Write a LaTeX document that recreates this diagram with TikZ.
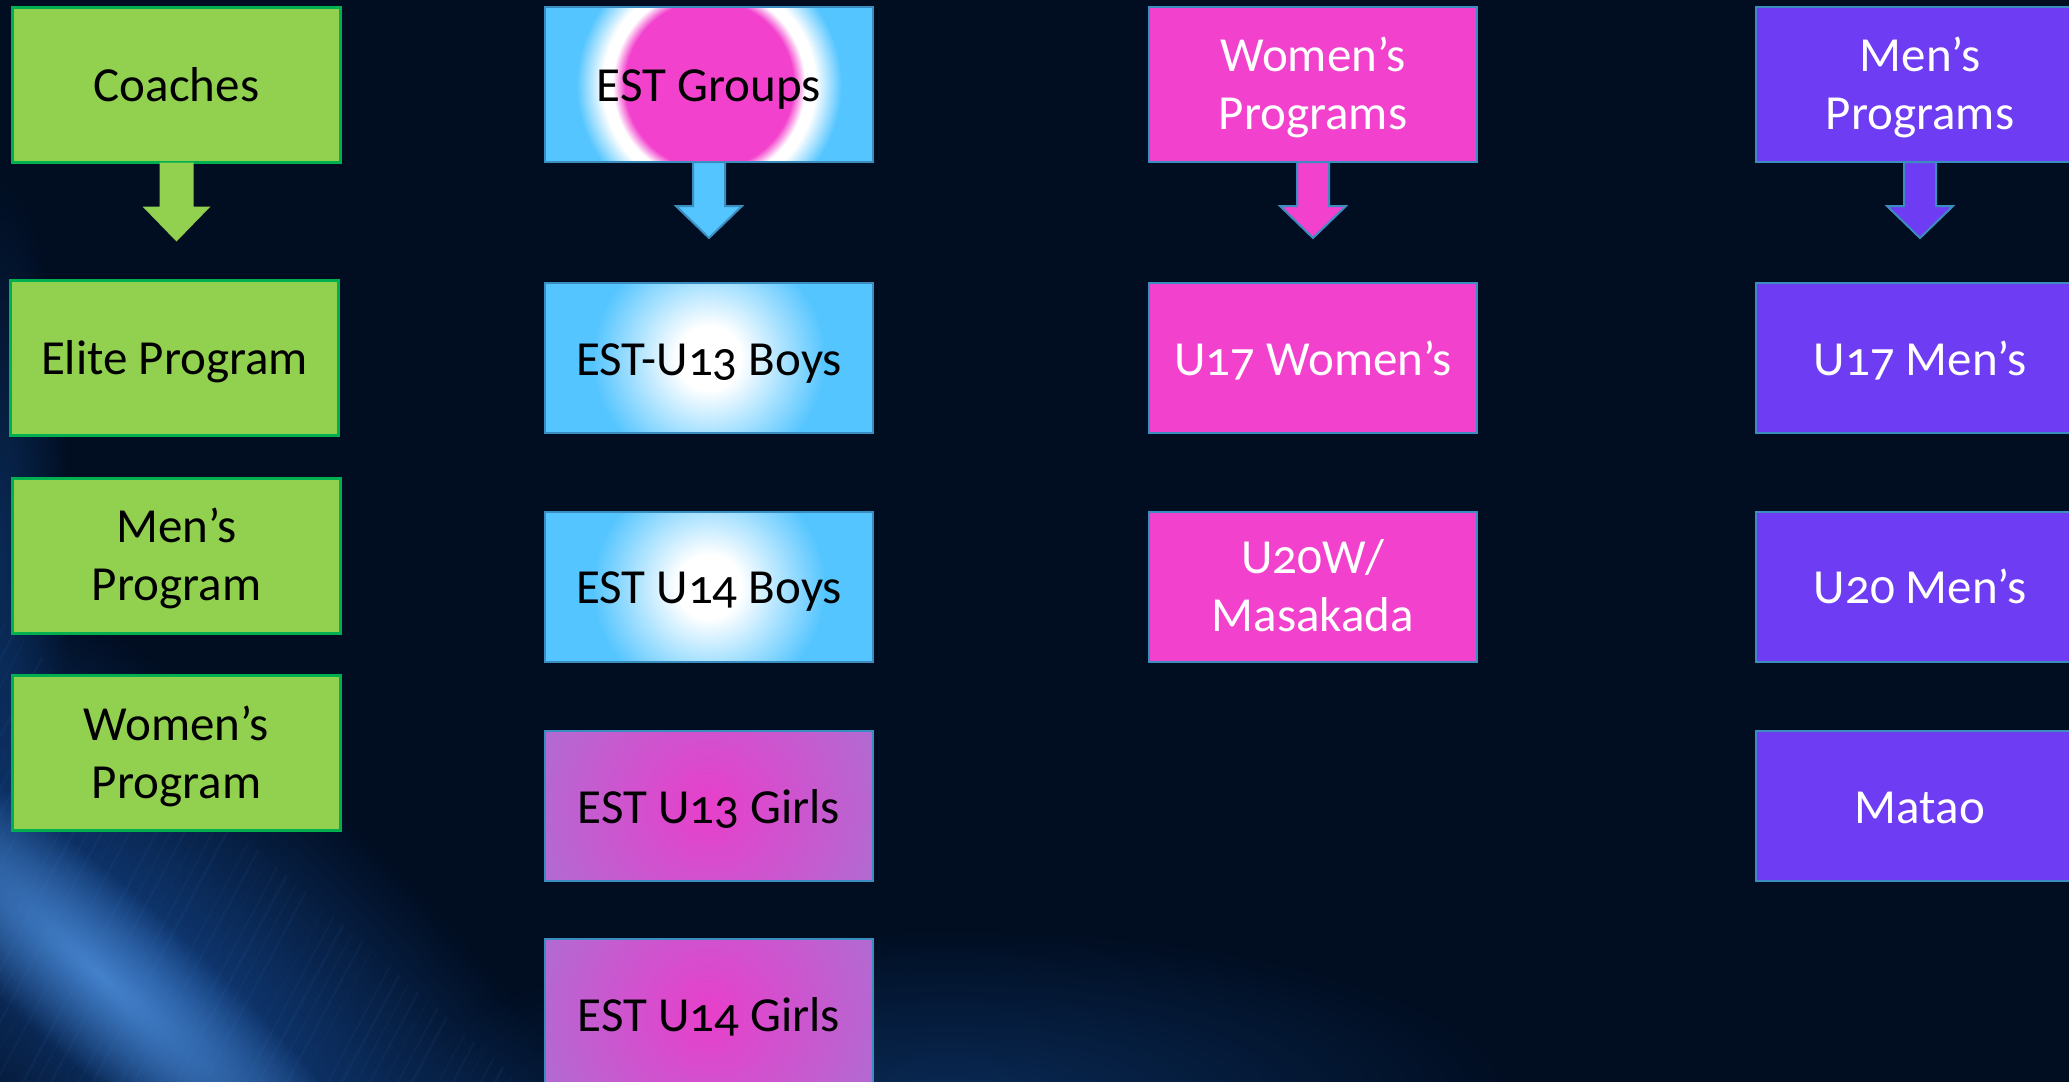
\documentclass[tikz,border=0pt]{standalone}
\usepackage{fontspec}
\setmainfont{Carlito}[Numbers=OldStyle]
\usetikzlibrary{fadings}
\definecolor{bgc}{HTML}{010E22}
\definecolor{gfill}{HTML}{92D050}
\definecolor{gline}{HTML}{00B050}
\definecolor{bfill}{HTML}{55C5FF}
\definecolor{sline}{HTML}{3C8DBF}
\definecolor{pfill}{HTML}{F241CD}
\definecolor{vfill}{HTML}{6E3CF3}
\definecolor{girlc}{HTML}{E83FCB}
\definecolor{girle}{HTML}{B06CD2}
\definecolor{glowa}{HTML}{123F80}
\definecolor{glowb}{HTML}{4A8AD6}
\definecolor{glowc}{HTML}{0A2A55}
\pgfdeclareradialshading{boysglow}{\pgfpointorigin}{color(0bp)=(white); color(16bp)=(white); color(58bp)=(bfill); color(60bp)=(bfill)}
\pgfdeclareradialshading{estglow}{\pgfpointorigin}{color(0bp)=(pfill); color(42bp)=(pfill); color(48bp)=(white); color(53bp)=(white); color(66bp)=(bfill); color(68bp)=(bfill)}
\pgfdeclareradialshading{girlglow}{\pgfpointorigin}{color(0bp)=(girlc); color(92bp)=(girle)}
\tikzfading[name=glowfade, inner color=transparent!0, outer color=transparent!100]
\newcommand\twol[2]{\begin{tabular}{@{}c@{}}#1\\#2\end{tabular}}
\tikzset{
  box/.style={rectangle, minimum width=164pt, minimum height=75pt, inner sep=0pt,
    line width=1pt, draw=sline, font=\fontsize{24.5}{29}\selectfont,
    text height=23pt, text depth=6pt},
  topbox/.style={box, minimum height=77.5pt},
  greenbox/.style={box, minimum height=77.5pt, fill=gfill, draw=gline, line width=1.5pt, text=black},
  bluebox/.style={box, fill=bfill, text=black},
  pinkbox/.style={box, fill=pfill, text=white},
  violetbox/.style={box, fill=vfill, text=white},
  glow/.style={path picture={\node[inner sep=0pt, outer sep=0pt, draw=none, fill=none,
      minimum width=0pt, minimum height=0pt, text height={}, text depth={}]
      at (path picture bounding box.center) {\pgfuseshading{#1}};}},
  arrowfill/.style={line width=1pt, draw=sline, line join=miter},
  streak/.style={draw=glowb, opacity=0.06}
}
\begin{document}
\begin{tikzpicture}[x=0.5pt, y=-0.5pt]
\useasboundingbox (0,0) rectangle (2069,1082);
\fill[bgc] (0,0) rectangle (2069,1082);
\begin{scope}
  \clip (0,0) rectangle (2069,1082);
  \fill[glowc, path fading=glowfade] (950,1100) ellipse (560 and 170);
  \fill[glowc, path fading=glowfade] (0,560) ellipse (70 and 380);
  \begin{scope}[transform canvas={rotate around={-42:(150,980)}}]
    \fill[glowa, path fading=glowfade] (150,980) ellipse (700 and 250);
    \fill[glowb, path fading=glowfade, opacity=.9] (110,1010) ellipse (400 and 85);
  \end{scope}
  \begin{scope}
    \clip (0,620) -- (520,1082) -- (0,1082) -- cycle;
    \foreach \i in {0,...,60} {
      \pgfmathsetmacro\xs{-420+\i*16+mod(\i*37,13)}
      \pgfmathsetmacro\lw{0.4+mod(\i*7,5)*0.25}
      \draw[streak, line width=\lw pt] (\xs,1082) -- ++(300,-560);
    }
  \end{scope}
\end{scope}

% column 1
\node[greenbox] (coach) at (176.5,84.5) {Coaches};
\node[greenbox] (elite) at (174.5,357.5) {Elite Program};
\node[greenbox] (mensp) at (176.5,555.5) {\twol{Men’s}{Program}};
\node[greenbox] (womensp) at (176.5,753) {\twol{Women’s}{Program}};

% column 2
\node[bluebox, topbox, glow=estglow] (est) at (709,84.5) {EST Groups};
\node[bluebox, glow=boysglow] (boys13) at (709,358) {EST-U13 Boys};
\node[bluebox, glow=boysglow] (boys14) at (709,586.5) {EST U14 Boys};
\node[bluebox, fill=girle, glow=girlglow] (girls13) at (709,806) {EST U13 Girls};
\node[bluebox, fill=girle, glow=girlglow] (girls14) at (709,1014) {EST U14 Girls};

% column 3
\node[pinkbox, topbox] (wprog) at (1313,84.5) {\twol{Women’s}{Programs}};
\node[pinkbox] (w17) at (1313,358) {U17 Women’s};
\node[pinkbox] (w20) at (1313,586.5) {\twol{U20W/}{Masakada}};

% column 4
\node[violetbox, topbox] (mprog) at (1920,84.5) {\twol{Men’s}{Programs}};
\node[violetbox] (m17) at (1920,358) {U17 Men’s};
\node[violetbox] (m20) at (1920,586.5) {U20 Men’s};
\node[violetbox] (matao) at (1920,806) {Matao};

% block arrows
\fill[gfill] (coach.south) ++(-17,-1) -- ++(0,44) -- ++(-17,0) -- ++(34,35) -- ++(34,-35) -- ++(-17,0) -- ++(0,-44) -- cycle;
\draw[arrowfill, fill=bfill] (est.south) ++(-16,-1) -- ++(0,44) -- ++(-17,0) -- ++(33,32) -- ++(33,-32) -- ++(-17,0) -- ++(0,-44) -- cycle;
\draw[arrowfill, fill=pfill] (wprog.south) ++(-16,-1) -- ++(0,44) -- ++(-17,0) -- ++(33,32) -- ++(33,-32) -- ++(-17,0) -- ++(0,-44) -- cycle;
\draw[arrowfill, fill=vfill] (mprog.south) ++(-16,-1) -- ++(0,44) -- ++(-17,0) -- ++(33,32) -- ++(33,-32) -- ++(-17,0) -- ++(0,-44) -- cycle;
\end{tikzpicture}
\end{document}
